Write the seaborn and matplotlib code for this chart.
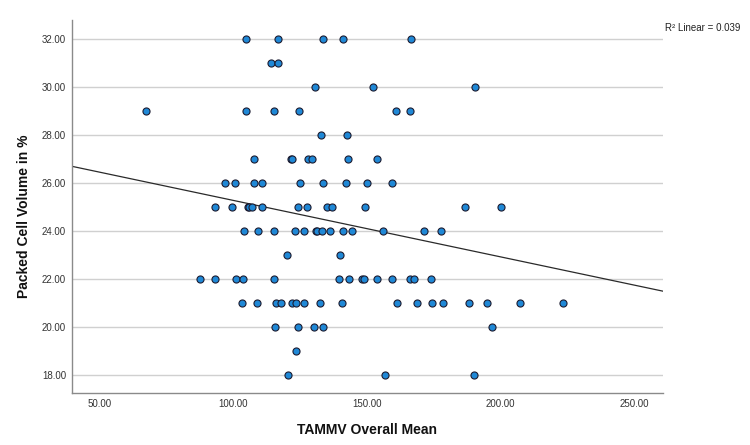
import numpy as np
import pandas as pd
import matplotlib
matplotlib.use("Agg")
import matplotlib.pyplot as plt
import seaborn as sns

# ---- data (TAMMV overall mean vs PCV) ----
pcv_32 = [104.6, 116.7, 133.4, 140.9, 166.4]
pcv_31 = [114.0, 116.7]
pcv_30 = [130.7, 152.4, 190.5]
pcv_29 = [67.2, 104.8, 115.3, 124.6, 160.9, 166.2]
pcv_28 = [132.7, 142.4]
pcv_27 = [107.7, 121.6, 122.1, 127.8, 129.5, 143.0, 153.7]
pcv_26 = [96.7, 100.5, 107.5, 110.7, 124.8, 133.5, 142.1, 149.9, 159.4]
pcv_25 = [93.2, 99.6, 105.3, 105.9, 107.1, 110.7, 124.0, 127.6, 134.9, 137.0,
          149.2, 186.8, 200.3]
pcv_24 = [104.0, 109.2, 115.2, 123.1, 126.3, 130.8, 131.4, 133.2, 136.2, 140.9,
          144.4, 156.0, 171.3, 177.9]
pcv_23 = [119.9, 139.9]
pcv_22 = [87.4, 93.2, 101.1, 103.5, 115.1, 139.4, 143.1, 148.2, 149.0, 153.8,
          159.4, 166.3, 167.8, 174.1]
pcv_21 = [103.3, 108.7, 116.1, 117.8, 122.1, 123.6, 126.6, 132.5, 140.8, 161.3,
          168.8, 174.4, 178.6, 188.2, 194.8, 207.2, 223.4]
pcv_20 = [115.5, 124.1, 130.3, 133.4, 196.7]
pcv_19 = [123.5]
pcv_18 = [120.6, 156.9, 190.2]

rows = {32: pcv_32, 31: pcv_31, 30: pcv_30, 29: pcv_29, 28: pcv_28,
        27: pcv_27, 26: pcv_26, 25: pcv_25, 24: pcv_24, 23: pcv_23,
        22: pcv_22, 21: pcv_21, 20: pcv_20, 19: pcv_19, 18: pcv_18}

# fit line as shown in the reference
fit_intercept = 27.61
fit_slope = -0.02351
r2_text = "R\u00b2 Linear = 0.039"

x_ticks = [50, 100, 150, 200, 250]
y_ticks = [18, 20, 22, 24, 26, 28, 30, 32]

df = pd.DataFrame([(x, y) for y, xs in rows.items() for x in xs],
                  columns=["TAMMV Overall Mean", "Packed Cell Volume in %"])

sns.set_style("white")
plt.rcParams["font.family"] = ["Liberation Sans", "DejaVu Sans"]

fig = plt.figure(figsize=(7.5, 4.45), dpi=100)
ax = fig.add_axes([0.0956, 0.1162, 0.7888, 0.8388])

ax.set_xlim(39.4, 261.0)
ax.set_ylim(17.22, 32.78)
ax.set_yticks(y_ticks)
ax.set_xticks(x_ticks)
ax.grid(axis="y", color="#d0d0d0", linewidth=1.0)
ax.grid(axis="x", visible=False)
ax.set_axisbelow(True)

xs_line = np.array(ax.get_xlim())
ax.plot(xs_line, fit_intercept + fit_slope * xs_line, color="#2a2a2a",
        linewidth=0.9, zorder=2)

sns.scatterplot(data=df, x="TAMMV Overall Mean", y="Packed Cell Volume in %",
                ax=ax, s=26, color="#1f88d6", edgecolor="#1c1c30",
                linewidth=0.8, zorder=3)

ax.set_xticklabels([f"{v:.2f}" for v in x_ticks])
ax.set_yticklabels([f"{v:.2f}" for v in y_ticks])
ax.tick_params(axis="both", length=0, labelsize=7, colors="#333333", pad=4)

for side in ["top", "right"]:
    ax.spines[side].set_visible(False)
for side in ["left", "bottom"]:
    ax.spines[side].set_color("#8a8a8a")
    ax.spines[side].set_linewidth(1.0)

ax.set_xlabel("TAMMV Overall Mean", fontsize=10, fontweight="bold", color="#111111")
ax.set_ylabel("Packed Cell Volume in %", fontsize=10, fontweight="bold", color="#111111")
ax.xaxis.set_label_coords(0.5, -0.08)
ax.yaxis.set_label_coords(-0.069, 0.473)

ax.text(1.003, 0.979, r2_text, transform=ax.transAxes, ha="left", va="center",
        fontsize=7, color="#222222")

fig.savefig("out.png", dpi=100, facecolor="white")
